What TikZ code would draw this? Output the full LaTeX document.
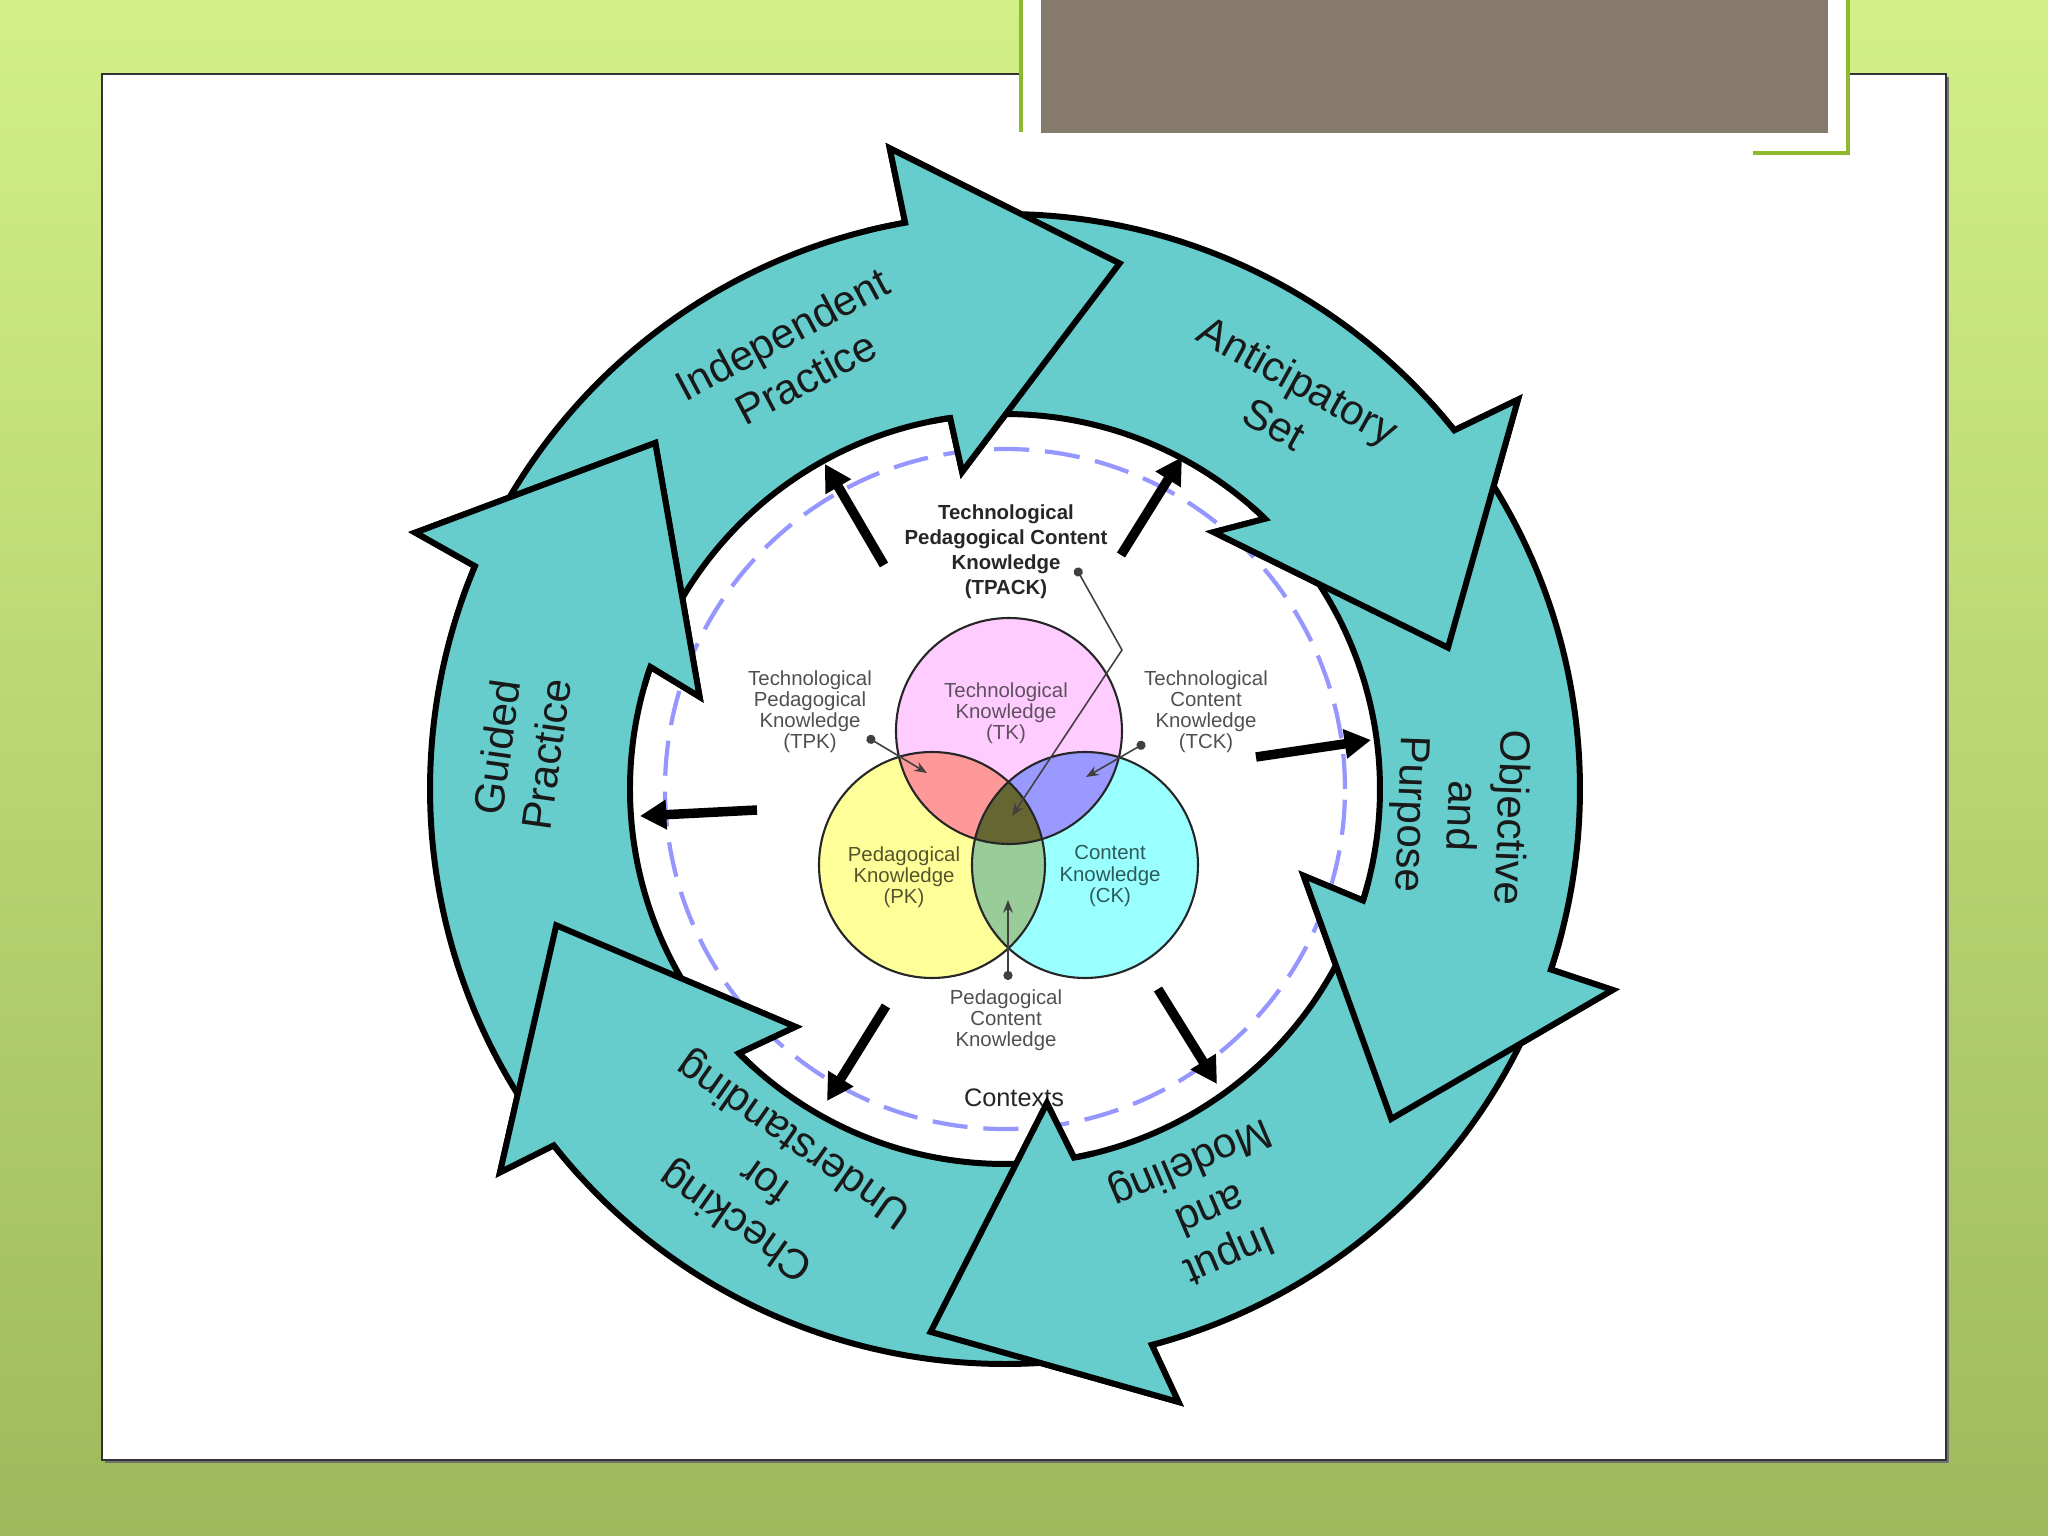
\documentclass[tikz,border=0pt]{standalone}
\usepackage{fontspec}
\setmainfont{Liberation Sans}
\usetikzlibrary{arrows.meta,positioning}

\definecolor{slidetop}{RGB}{210,240,135}
\definecolor{slidebottom}{RGB}{158,186,92}
\definecolor{slidegreen}{RGB}{140,185,45}
\definecolor{titlegray}{RGB}{133,122,108}
\definecolor{ringteal}{RGB}{102,204,204}
\definecolor{tkpink}{RGB}{255,204,255}
\definecolor{pkyellow}{RGB}{255,255,153}
\definecolor{ckcyan}{RGB}{153,255,255}
\definecolor{tpkred}{RGB}{255,153,153}
\definecolor{tckblue}{RGB}{153,153,255}
\definecolor{pckgreen}{RGB}{153,204,153}
\definecolor{tpackolive}{RGB}{102,102,51}
\definecolor{ctxdash}{RGB}{150,150,255}
\definecolor{labelgray}{RGB}{80,80,80}
\definecolor{tktext}{RGB}{95,80,95}
\definecolor{pktext}{RGB}{85,85,45}
\definecolor{cktext}{RGB}{45,90,90}

\tikzset{
  ringbody/.style={fill=ringteal, draw=black, line width=1.7pt, line join=miter},
  ringedge/.style={draw=black, line width=1.7pt, line join=miter},
  steplabel/.style={font=\fontsize{12}{14.2}\selectfont, align=center, text=black!90, inner sep=0pt},
  venntext/.style={font=\fontsize{5.8}{6}\selectfont, align=center, inner sep=0pt},
  sidelabel/.style={venntext, text=labelgray},
  pointer/.style={draw=black!75, line width=0.45pt, arrows={Circle[length=2.6pt]-Stealth[length=3.6pt,width=2.8pt]}},
  outflow/.style={draw=black, line width=2.7pt, arrows={-Triangle[length=7.5pt,width=8pt]}},
  vennedge/.style={draw=black!85, line width=0.6pt},
}

\begin{document}
\begin{tikzpicture}[x=0.01cm, y=0.01cm]
  \useasboundingbox (-1005,-747) rectangle (1043,789);
  % slide and frame
  \shade[top color=slidetop, bottom color=slidebottom] (-1005,-747) rectangle (1043,789);
  \fill[black!55] (-900,-674) rectangle (944,712);
  \filldraw[fill=white, draw=black!80, line width=0.6pt] (-903,-671) rectangle (941,715);
  % title box
  \fill[white] (16,637) rectangle (842,789);
  \draw[slidegreen, line width=1.1pt] (16,789) -- (16,657);
  \draw[slidegreen, line width=1.1pt] (748,636) -- (843,636) -- (843,789);
  \fill[titlegray] (36,656) rectangle (823,789);

  % venn circles
  \coordinate (hub) at (0,0);
  \coordinate (tkc) at (4,58);
  \coordinate (pkc) at (-73,-76);
  \coordinate (ckc) at (80,-76);
  \fill[tkpink] (tkc) circle[radius=113];
  \fill[pkyellow] (pkc) circle[radius=113];
  \fill[ckcyan] (ckc) circle[radius=113];
  \begin{scope}
    \clip (tkc) circle[radius=113];
    \fill[tpkred] (pkc) circle[radius=113];
    \fill[tckblue] (ckc) circle[radius=113];
  \end{scope}
  \begin{scope}
    \clip (pkc) circle[radius=113];
    \fill[pckgreen] (ckc) circle[radius=113];
    \clip (ckc) circle[radius=113];
    \fill[tpackolive] (tkc) circle[radius=113];
  \end{scope}
  \draw[vennedge] (tkc) circle[radius=113] (pkc) circle[radius=113] (ckc) circle[radius=113];

  % venn labels
  \node[venntext, font=\bfseries\fontsize{5.8}{7.1}\selectfont, text=black!85] (tpack) at (1,237) {Technological\\Pedagogical Content\\Knowledge\\(TPACK)};
  \node[sidelabel] (tpk) at (-195,77) {Technological\\Pedagogical\\Knowledge\\(TPK)};
  \node[sidelabel] (tck) at (201,77) {Technological\\Content\\Knowledge\\(TCK)};
  \node[venntext, text=tktext] (tk) at (1,76) {Technological\\Knowledge\\(TK)};
  \node[venntext, text=pktext] (pk) at (-101,-88) {Pedagogical\\Knowledge\\(PK)};
  \node[venntext, text=cktext] (ck) at (105,-87) {Content\\Knowledge\\(CK)};
  \node[sidelabel] (pck) at (1,-231) {Pedagogical\\Content\\Knowledge};
  \node[font=\fontsize{7.2}{8}\selectfont, text=black!85, inner sep=0pt] (ctx) at (9,-309) {Contexts};

  \coordinate (tpkdot) at (-138,52);
  \coordinate (tpktip) at (-78,16);
  \coordinate (tckdot) at (140,46);
  \coordinate (tcktip) at (81,12);
  \coordinate (tpackdot) at (71,221);
  \coordinate (tpackbend) at (117,139);
  \coordinate (tpacktip) at (7,-27);
  \coordinate (pckdot) at (3,-191);
  \coordinate (pcktip) at (3,-111);
  \draw[pointer] (tpkdot) -- (tpktip);
  \draw[pointer] (tckdot) -- (tcktip);
  \draw[pointer] (tpackdot) -- (tpackbend) -- (tpacktip);
  \draw[pointer] (pckdot) -- (pcktip);

  % contexts ring
  \draw[ctxdash, line width=1.2pt, dash pattern=on 10pt off 4.5pt] (hub) circle[radius=340];

  % cycle arrows: bodies, then heads on top
  \foreach \tlo/\tli/\tap/\hao/\hai/\bor/\boa/\bir/\bia/\tipr/\tipa in {
      153.2/157/149.1/100/98.4/651/100.2/320/97.7/538/77.7,
      96/94.4/89.2/38.6/46.1/644/37.2/331/50.9/465/17.7,
      34.6/42.1/32.35/-18.3/-17.3/640/-18.3/311/-16.2/508/-40.5,
      -22.3/-21.3/-27.8/-75.2/-79.4/637/-74.2/317/-82.4/548/-97.8,
      -79.2/-83.4/-87.3/-141.7/-135.2/634/-142.8/317/-131.4/469/-163.1,
      -145.7/-139.2/-148.45/-202.8/-199/643/-203.5/319/-196.8/492/-224.7}{
    \path[ringbody] (\tlo:575) arc[start angle=\tlo, end angle=\hao, radius=575]
      -- (\boa:\bor) -- (\tipa:\tipr) -- (\bia:\bir) -- (\hai:375)
      arc[start angle=\hai, end angle=\tli, radius=375] -- (\tap:475) -- cycle;
  }
  \foreach \hao/\hai/\bor/\boa/\bir/\bia/\tipr/\tipa in {
      100/98.4/651/100.2/320/97.7/538/77.7,
      38.6/46.1/644/37.2/331/50.9/465/17.7,
      -18.3/-17.3/640/-18.3/311/-16.2/508/-40.5,
      -75.2/-79.4/637/-74.2/317/-82.4/548/-97.8,
      -141.7/-135.2/634/-142.8/317/-131.4/469/-163.1,
      -202.8/-199/643/-203.5/319/-196.8/492/-224.7}{
    \fill[ringteal] ({\hao+4}:575) arc[start angle=\hao+4, end angle=\hao, radius=575]
      -- (\boa:\bor) -- (\tipa:\tipr) -- (\bia:\bir) -- (\hai:375) -- cycle;
    \draw[ringedge] ({\hao+4}:575) arc[start angle=\hao+4, end angle=\hao, radius=575]
      -- (\boa:\bor) -- (\tipa:\tipr) -- (\bia:\bir) -- (\hai:375)
      arc[start angle=\hai, end angle=\hai+3, radius=375];
  }

  % outward arrows
  \foreach \n/\sx/\sy/\ex/\ey in {1/-121/224/-180/325, 2/116/234/177/332, 3/251/32/366/49,
      4/153/-200/212/-295, 5/-119/-217/-178/-312, 6/-248/-21/-365/-27}{
    \coordinate (fs\n) at (\sx,\sy);
    \coordinate (fe\n) at (\ex,\ey);
    \draw[outflow] (fs\n) -- (fe\n);
  }

  % step names
  \node[steplabel, rotate=28] (indep) at (116:482) {Independent\\Practice};
  \node[steplabel, rotate=-29] (antic) at (54:479) {Anticipatory\\Set};
  \node[steplabel, rotate=-92] (objec) at (-3.4:455) {Objective\\and\\Purpose};
  \node[steplabel, rotate=-157] (input) at (-64:465) {Input\\and\\Modeling};
  \node[steplabel, rotate=145] (check) at (-121.5:458) {Checking\\for\\Understanding};
  \node[steplabel, rotate=82] (guide) at (175.5:485) {Guided\\Practice};
\end{tikzpicture}
\end{document}
